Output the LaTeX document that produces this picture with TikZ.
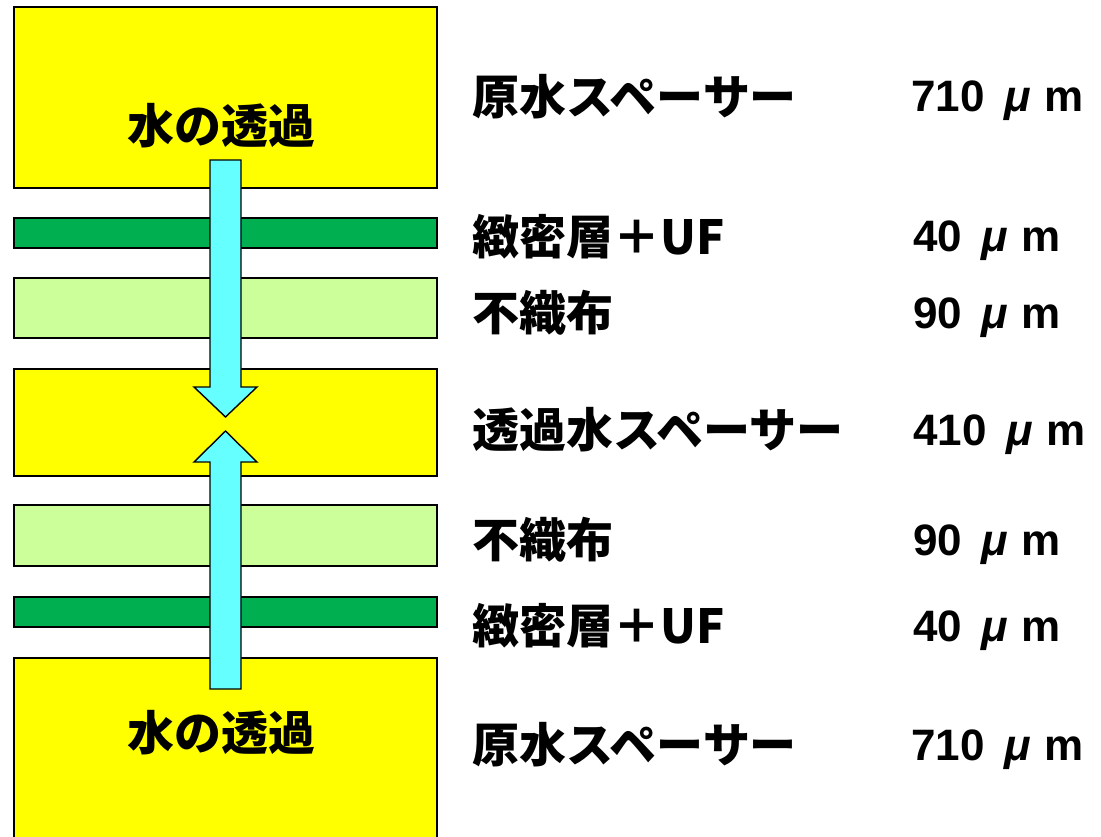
\documentclass[tikz,border=0pt]{standalone}
\usepackage{fontspec}
\newfontfamily\jp{Noto Sans CJK JP}
\newfontfamily\lat{Liberation Sans}
\definecolor{spyellow}{HTML}{FFFF00}
\definecolor{dkgreen}{HTML}{00B050}
\definecolor{ltgreen}{HTML}{CCFF99}
\definecolor{water}{HTML}{66FFFF}
\begin{document}
\begin{tikzpicture}[x=1pt,y=-1pt,
  layer/.style={draw=black,line width=1.4pt},
  flow/.style={draw=black,line width=1.4pt,fill=water,line join=miter},
  jlab/.style={anchor=west,inner sep=0pt,font=\jp\bfseries\fontsize{47}{52}\selectfont},
  nlab/.style={anchor=base west,inner sep=0pt,font=\lat\bfseries\fontsize{44}{50}\selectfont},
  boxlab/.style={inner sep=0pt,font=\jp\bfseries\fontsize{47}{52}\selectfont}]
\clip (0,0) rectangle (1101,837);
\fill[white] (0,0) rectangle (1101,837);
% layers
\draw[layer,fill=spyellow] (14,7) rectangle (437,188);
\draw[layer,fill=dkgreen] (14,218) rectangle (437,248);
\draw[layer,fill=ltgreen] (14,278) rectangle (437,338);
\draw[layer,fill=spyellow] (14,369) rectangle (437,476);
\draw[layer,fill=ltgreen] (14,505) rectangle (437,566);
\draw[layer,fill=dkgreen] (14,597) rectangle (437,627);
\draw[layer,fill=spyellow] (14,845) -- (14,658) -- (437,658) -- (437,845);
% arrows
\draw[flow] (210,160) -- (241,160) -- (241,387) -- (257,387) -- (225.5,417)
  -- (194,387) -- (210,387) -- cycle;
\draw[flow] (210,689) -- (241,689) -- (241,462) -- (257,462) -- (225.5,431)
  -- (194,462) -- (210,462) -- cycle;
% box labels
\node[boxlab] (t1) at (221,126) {水の透過};
\node[boxlab] (t2) at (221,733) {水の透過};
% right labels
\node[jlab] (l1) at (472,97) {原水スペーサー};
\node[jlab] (l2) at (472,237) {緻密層＋UF};
\node[jlab] (l3) at (472,313) {不織布};
\node[jlab] (l4) at (472,430) {透過水スペーサー};
\node[jlab] (l5) at (472,540) {不織布};
\node[jlab] (l6) at (472,626) {緻密層＋UF};
\node[jlab] (l7) at (472,745) {原水スペーサー};
\newcommand\mum{\hspace{0.45em}{\itshape μ}\hspace{0.3em}m}
\node[nlab] (n1) at (911,112) {710\mum};
\node[nlab] (n2) at (913,252) {40\mum};
\node[nlab] (n3) at (913,328) {90\mum};
\node[nlab] (n4) at (913,445) {410\mum};
\node[nlab] (n5) at (913,555) {90\mum};
\node[nlab] (n6) at (913,641) {40\mum};
\node[nlab] (n7) at (911,760) {710\mum};
\end{tikzpicture}
\end{document}
